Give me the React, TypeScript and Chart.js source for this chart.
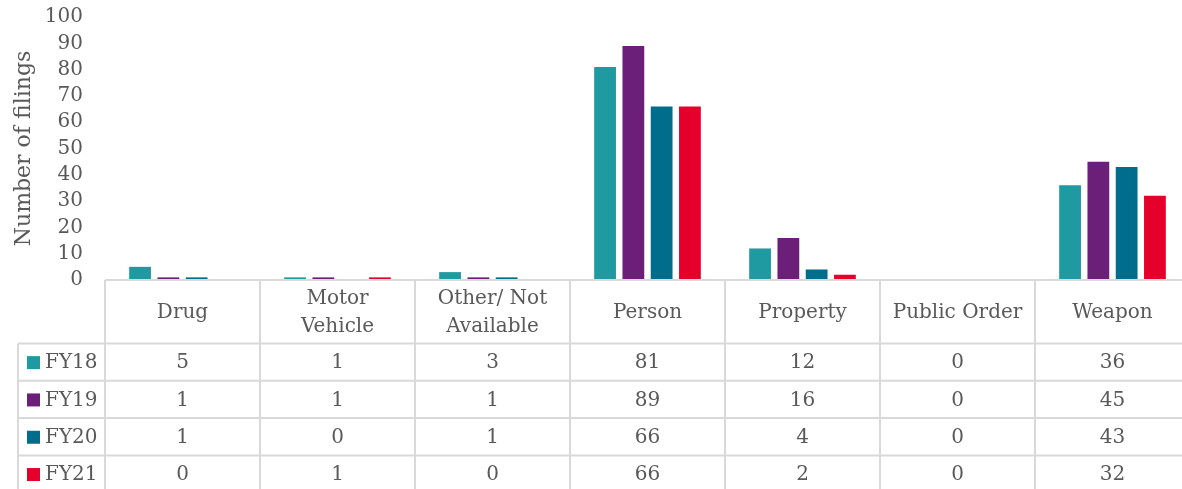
import React, { useEffect, useRef } from 'react';
import { Chart, registerables } from 'chart.js';

Chart.register(...registerables);

const categories = ['Drug', 'Motor Vehicle', 'Other/ Not Available', 'Person', 'Property', 'Public Order', 'Weapon'];
const categoryLines = [['Drug'], ['Motor', 'Vehicle'], ['Other/ Not', 'Available'], ['Person'], ['Property'], ['Public Order'], ['Weapon']];
const seriesNames = ['FY18', 'FY19', 'FY20', 'FY21'];
const fy18 = [5, 1, 3, 81, 12, 0, 36];
const fy19 = [1, 1, 1, 89, 16, 0, 45];
const fy20 = [1, 0, 1, 66, 4, 0, 43];
const fy21 = [0, 1, 0, 66, 2, 0, 32];
const seriesColors = ['#1E9AA0', '#6C1F78', '#006D8C', '#E4002B'];
const yMin = 0;
const yMax = 100;
const yStep = 10;
const yTitle = 'Number of filings';

const seriesData = [fy18, fy19, fy20, fy21];

const FONT = '"DejaVu Serif", serif';
const TEXT = '#595959';
const GRID = '#D9D9D9';

const tablePlugin = {
  id: 'dataTable',
  afterDraw(chart: any) {
    const { ctx, chartArea } = chart;
    const n = categories.length;
    const left = chartArea.left;
    const right = chartArea.right;
    const cw = (right - left) / n;
    const top = chartArea.bottom;
    const headerH = 63.5;
    const rowH = 37.3;
    const legendLeft = 18;
    const rows = seriesData.length;
    const bottom = top + headerH + rows * rowH;
    ctx.save();
    ctx.strokeStyle = GRID;
    ctx.lineWidth = 2;
    ctx.beginPath();
    ctx.moveTo(left, top);
    ctx.lineTo(right, top);
    for (let r = 0; r <= rows; r++) {
      const y = top + headerH + r * rowH;
      ctx.moveTo(legendLeft, y);
      ctx.lineTo(right, y);
    }
    ctx.moveTo(legendLeft, top + headerH);
    ctx.lineTo(legendLeft, bottom);
    for (let i = 0; i <= n; i++) {
      const xx = left + i * cw;
      ctx.moveTo(xx, top);
      ctx.lineTo(xx, bottom);
    }
    ctx.stroke();

    ctx.fillStyle = TEXT;
    ctx.font = '20px ' + FONT;
    ctx.textAlign = 'center';
    ctx.textBaseline = 'middle';
    const headerCenter = top + headerH / 2 + 1;
    const lineGap = 27.5;
    categoryLines.forEach((lines, i) => {
      const cx = chart.scales.x.getPixelForValue(i);
      const startY = headerCenter - ((lines.length - 1) * lineGap) / 2;
      lines.forEach((ln, j) => ctx.fillText(ln, cx, startY + j * lineGap));
    });

    seriesData.forEach((vals, r) => {
      const cy = top + headerH + r * rowH + rowH / 2 + 1;
      ctx.fillStyle = seriesColors[r];
      ctx.fillRect(27, cy - 7, 13, 13);
      ctx.fillStyle = TEXT;
      ctx.textAlign = 'left';
      ctx.fillText(seriesNames[r], 45, cy);
      ctx.textAlign = 'center';
      vals.forEach((v, i) => {
        const cx = chart.scales.x.getPixelForValue(i);
        ctx.fillText(String(v), cx, cy);
      });
    });
    ctx.restore();
  },
};

export default function App() {
  const ref = useRef<HTMLCanvasElement>(null);
  useEffect(() => {
    if (!ref.current) return;
    const chart = new Chart(ref.current, {
      type: 'bar',
      data: {
        labels: categories,
        datasets: seriesData.map((d, i) => ({
          label: seriesNames[i],
          data: d,
          backgroundColor: seriesColors[i],
          borderWidth: 0,
          barPercentage: 0.77,
          categoryPercentage: 0.73,
        })),
      },
      options: {
        responsive: false,
        animation: false,
        layout: { padding: { top: 17, bottom: 209, left: 0, right: 0 } },
        plugins: { legend: { display: false }, tooltip: { enabled: false } },
        scales: {
          x: { display: false },
          y: {
            min: yMin,
            max: yMax,
            afterFit: (s: any) => {
              s.width = 105;
              s.paddingTop = 0;
              s.paddingBottom = 0;
            },
            border: { display: false },
            grid: { display: false, drawTicks: false },
            ticks: {
              stepSize: yStep,
              autoSkip: false,
              padding: 22,
              color: TEXT,
              font: { family: FONT, size: 20 },
            },
            title: {
              display: true,
              text: yTitle,
              color: TEXT,
              font: { family: FONT, size: 22, lineHeight: 1.2 },
              padding: { top: 11, bottom: 0 },
            },
          },
        },
      },
      plugins: [tablePlugin],
    });
    return () => chart.destroy();
  }, []);
  return (
    <div style={{ position: 'fixed', left: 0, top: 0, width: 1182, height: 489, overflow: 'hidden', background: '#fff' }}>
      <canvas ref={ref} width={1190} height={489} style={{ display: 'block' }} />
    </div>
  );
}
